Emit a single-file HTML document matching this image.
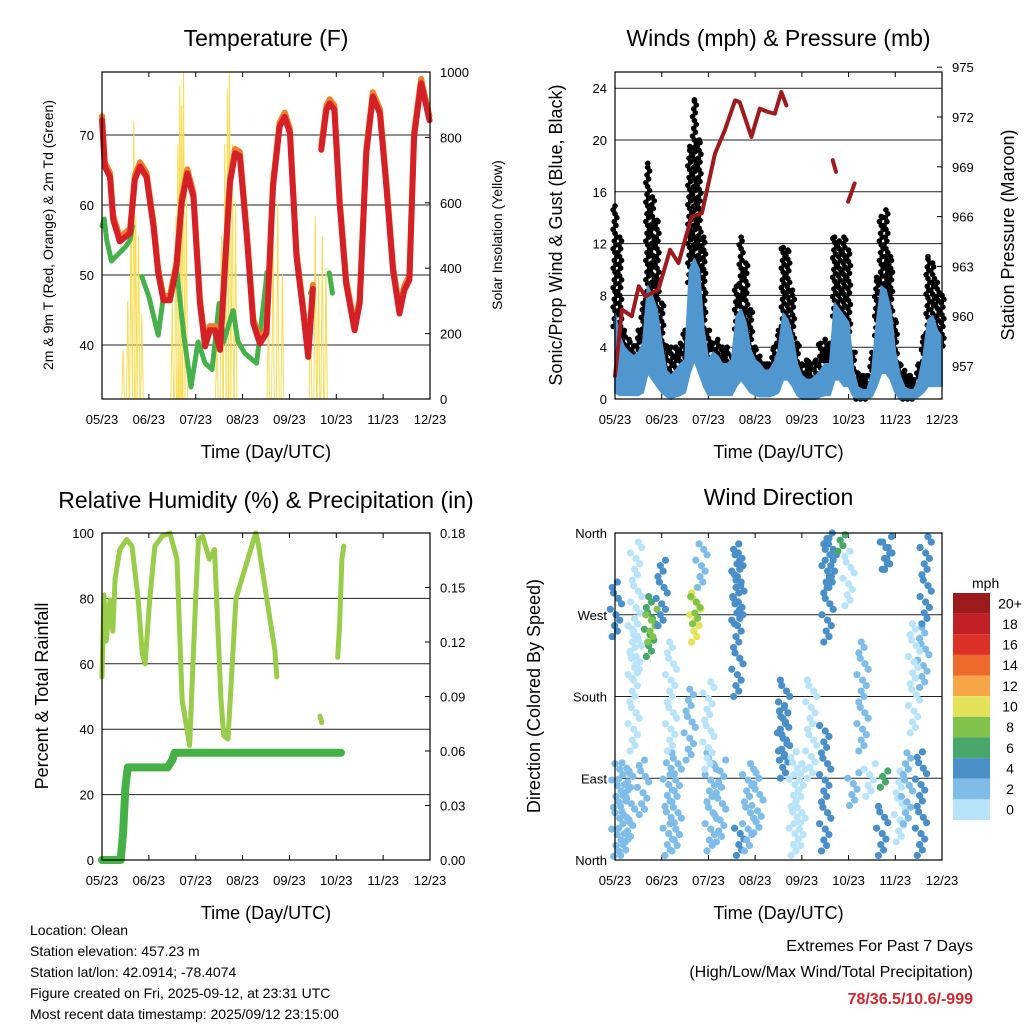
<!DOCTYPE html>
<html><head><meta charset="utf-8"><style>
body{margin:0;background:#fff}
svg{display:block;font-family:"Liberation Sans",sans-serif}
</style></head><body>
<svg id="s" width="1024" height="1024" viewBox="0 0 1024 1024" xmlns="http://www.w3.org/2000/svg">
<g id="p1"></g>
<g id="p2"></g>
<g id="p3"></g>
<g id="p4"></g>
<g id="txt">
<text x="30" y="935" font-size="14">Location: Olean</text>
<text x="30" y="956" font-size="14">Station elevation: 457.23 m</text>
<text x="30" y="977" font-size="14">Station lat/lon: 42.0914; -78.4074</text>
<text x="30" y="998" font-size="14">Figure created on Fri, 2025-09-12, at 23:31 UTC</text>
<text x="30" y="1019" font-size="14">Most recent data timestamp: 2025/09/12 23:15:00</text>
<text x="973" y="951" font-size="16" text-anchor="end">Extremes For Past 7 Days</text>
<text x="973" y="977" font-size="16" text-anchor="end">(High/Low/Max Wind/Total Precipitation)</text>
<text x="973" y="1004" font-size="16" font-weight="bold" fill="#d0262c" text-anchor="end">78/36.5/10.6/-999</text>
</g>
</svg>
<script>
const NS="http://www.w3.org/2000/svg";
const monthLabels=["05/23","06/23","07/23","08/23","09/23","10/23","11/23","12/23"];
const tempX=[0,.06,.17,.24,.38,.6,.7,.81,.95,1.1,1.2,1.31,1.45,1.59,1.7,1.82,1.95,2.09,2.2,2.3,2.41,2.52,2.62,2.73,2.84,2.94,3.09,3.23,3.37,3.51,3.65,3.79,3.9,4.01,4.15,4.29,4.4,4.5,null,4.68,4.79,4.86,4.96,5.07,5.21,5.39,5.5,5.64,5.78,5.93,6.07,6.21,6.35,6.45,6.56,6.66,6.81,6.99];
const tempY=[72.1,65.5,64,57.9,54.8,56,63.6,65.5,64,56.9,50.3,46.4,46.4,51.2,60.3,64.5,61.2,46,39.8,42.1,42.1,39.3,50.7,63.1,67.4,67,55.5,43.1,40.2,41.7,62.6,71.2,72.6,70.3,52.6,45,38.3,48,null,67.9,73.6,74.5,73.6,60.3,48.8,42.1,46,67.4,75.5,73.1,62.6,50.7,44.5,47.8,49.3,69.8,77.4,72.1];
const dewX=[0,.05,.1,.2,.35,.5,.6,.65,null,.85,1.0,1.2,1.3,1.45,1.6,1.75,1.9,2.05,2.2,2.35,2.5,2.6,2.8,2.9,3.05,3.3,3.5,3.52,null,4.45,4.5,null,4.85,4.92];
const dewY=[57,58,55,52,53,54,55,57,null,49.8,46.9,41.4,46.4,46.5,50.3,41.2,34,40.5,37.4,36.5,46,40.5,45,40.5,38.8,37.4,49,50.5,null,47.4,48.3,null,50.3,47.4];
const solarX=[.45,.55,.62,.68,.72,.78,.85,1.5,1.58,1.62,1.66,1.7,1.74,1.8,2.45,2.55,2.62,2.68,2.72,2.78,2.85,3.55,3.65,3.75,3.85,4.45,4.55,4.62,4.7,4.78];
const solarY=[150,300,620,850,560,500,260,300,560,780,960,900,1000,650,200,500,780,950,1000,780,600,250,550,600,380,300,560,380,500,400];
const gust=[14.9,12.5,5.3,4.6,4.1,5.3,7.4,18.2,15.6,13.8,7.4,4.1,4,4,4.3,5.3,19.5,23.1,20,12.5,5.3,4.3,4.6,4,4,3.3,8.7,12.5,10.5,6.9,4,3.3,2.7,2.7,4,5.3,11.7,11.5,8.4,4.3,2.7,3,2.7,3,4.3,4.6,4.3,12.5,12.2,12.5,11.5,3.6,2,1.8,1.8,3.6,9.4,14.1,14.6,11,6.1,2.7,2.2,1.8,1.5,2.7,4.8,11,10.5,9,8];
const windHigh=[6.6,4.8,4,3.6,3.3,3.6,4.3,8.7,7.9,6.9,4.3,2.2,1.8,2.2,2.7,3,10,10.8,10,5.3,3,3.6,3.3,2.7,2.7,3,6.4,6.9,5.9,3.8,3,2.7,2.2,2.2,2.7,3.8,6.6,6.1,4.8,2.7,1.8,1.5,1.5,1.8,2.2,2.7,2.7,7.4,6.9,6.4,5.9,2.2,.9,.7,.7,2,5.9,8.7,8.4,6.9,3.6,1.8,.9,.7,.7,1.5,3.3,6.1,6.4,5.3,4.8];
const windLow=[.5,.3,.3,.3,.3,.3,.5,2,1.5,1,.5,.2,0,.2,.3,.5,2,3,2,1,.3,.3,.3,.3,.3,.3,1,1.5,1,.5,.3,.2,.2,.2,.3,.5,1.5,1.5,1,.3,0,0,0,0,.2,.3,.3,1.5,1.5,1,1,.2,0,0,0,.2,1,2,2,1.5,.5,0,0,0,0,.2,.5,1,1,1,1];
const presX=[0,.15,.36,.51,.65,.93,1.18,1.36,1.64,1.86,2.14,2.35,2.57,2.67,2.92,3.1,3.28,3.42,3.56,3.67,null,4.66,4.73,null,4.99,5.13];
const presY=[956.4,960.4,960,961.8,961.2,961.6,964,963.2,966,966.2,969.8,971.2,973,972.9,970.8,972.5,972.3,972.2,973.5,972.7,null,969.4,968.7,null,966.9,968];
const rhX=[0,.04,.09,.17,.23,.28,.38,.53,.64,.77,.86,.92,1.02,1.13,1.28,1.45,1.6,1.71,1.87,2.0,2.06,2.15,2.29,2.4,2.54,2.6,2.69,2.86,3.28,3.32,3.69,3.73,null,4.65,4.69,null,5.03,5.07,5.12,5.16];
const rhY=[56,81,67,79.5,70,86,95,98,96,80,63,60,80,96,99,100,92,49,35,80,98,99,92,95,49,38,37,80,100,98,64,56,null,44,42,null,62,72,92,96];
const precipX=[0,.4,.45,.5,.55,1.4,1.5,1.55,5.1];
const precipY=[0,0,.015,.04,.051,.051,.055,.059,.059];
const dirT=[.02,.05,.2,.3,.45,.6,.75,.78,1.0,1.15,1.3,1.6,1.72,1.74,1.85,2.05,2.25,2.62,2.68,2.64,2.85,3.05,3.62,3.6,3.85,3.95,4.5,4.55,4.62,4.85,5.1,5.3,5.45,5.72,5.76,5.8,5.85,6.1,6.25,6.55,6.6,6.65,1.2,2.0,4.2,5.0,6.4,0.4];
const dirA=[246,4,5,20,200,50,224,240,258,5,10,110,240,260,300,10,20,180,5,260,10,30,90,110,5,10,10,240,300,340,60,120,70,5,80,320,320,20,40,5,190,260,120,100,90,280,140,120];
const dirB=[308,107,110,100,355,110,290,280,330,110,120,190,300,290,350,120,110,350,40,340,110,100,200,170,120,110,150,355,360,360,100,240,110,60,100,360,350,100,120,120,260,360,240,200,200,340,260,260];
const dirS=[3,1,1,2,0,1,6,7,4,2,2,2,9,7,1,1,1,4,4,3,1,1,4,4,0,0,4,3,4,5,1,1,0,4,6,4,3,0,1,4,2,3,0,0,0,0,0,0];
const cbLabels=["20+","18","16","14","12","10","8","6","4","2","0"];
const cbColors=["#9b1a1c","#bf1f25","#dc3127","#ee6a2c","#f6a646","#e3e25a","#80c24b","#48a86b","#4a8fc8","#7fbde8","#b9e3f9"];

function el(parent,tag,attrs){const e=document.createElementNS(NS,tag);for(const k in attrs)e.setAttribute(k,attrs[k]);parent.appendChild(e);return e;}
function txt(parent,x,y,s,size,anchor,rot){const e=el(parent,'text',{x:x,y:y,'font-size':size,'text-anchor':anchor||'middle'});if(rot)e.setAttribute('transform',`rotate(${rot} ${x} ${y})`);e.textContent=s;return e;}
function poly(parent,X,Y,fx,fy,attrs,name){let segs=[],cur=[];for(let i=0;i<X.length;i++){if(X[i]===null){if(cur.length)segs.push(cur);cur=[];continue;}cur.push(fx(X[i]).toFixed(1)+','+fy(Y[i]).toFixed(1));}if(cur.length)segs.push(cur);segs.forEach(s=>{const p=el(parent,'polyline',Object.assign({points:s.join(' '),fill:'none','stroke-linejoin':'round','stroke-linecap':'round'},attrs));});}

function frame(g,L,T,R,B,title,ty){
  const tt=txt(g,(L+R)/2,ty,title,23);
  const mx=m=>L+(R-L)*m/7;
  for(let i=0;i<8;i++){const x=mx(i);el(g,'line',{x1:x,x2:x,y1:B,y2:B-5,stroke:'#000'});el(g,'line',{x1:x,x2:x,y1:T,y2:T+5,stroke:'#000'});
    const t=txt(g,x,B+25,monthLabels[i],13);}
  const xt=txt(g,(L+R)/2,B+59,'Time (Day/UTC)',18);
  return mx;
}
function box(g,L,T,R,B){const r=el(g,'rect',{x:L,y:T,width:R-L,height:B-T,fill:'none',stroke:'#000','stroke-width':1.2});}
function hgrid(g,L,R,y,lab,side){el(g,'line',{x1:L,x2:R,y1:y,y2:y,stroke:'#222','stroke-width':1});
  if(lab!==null){const t=txt(g,side==='l'?L-8:R+10,y+5,lab,13,side==='l'?'end':'start');}}

(function(){const g=document.getElementById('p1');const L=102,T=72,R=430,B=399;
 const mx=frame(g,L,T,R,B,'Temperature (F)',46);
 const fy=v=>345-(v-40)*7, sy=v=>B-v/1000*(B-T);
 [40,50,60,70].forEach(v=>hgrid(g,L,R,fy(v),String(v),'l'));
 [0,200,400,600,800,1000].forEach(v=>{const t=txt(g,R+10,sy(v)+5,String(v),13,'start');el(g,'line',{x1:R,x2:R-5,y1:sy(v),y2:sy(v),stroke:'#000'});});
 solarX.forEach((m,i)=>{const w=0.03;const p=el(g,'polyline',{points:`${mx(m-w)},${B} ${mx(m-w*.5)},${sy(solarY[i]*.4)} ${mx(m-w*.15)},${sy(solarY[i]*.9)} ${mx(m)},${sy(solarY[i])} ${mx(m+w*.15)},${sy(solarY[i]*.9)} ${mx(m+w*.5)},${sy(solarY[i]*.4)} ${mx(m+w)},${B}`,fill:'none',stroke:'#f7dd55','stroke-width':1});
  });
 poly(g,dewX,dewY,mx,fy,{stroke:'#46b04a','stroke-width':5,'stroke-dasharray':'3 1.5'},'dewpoint-line');
 poly(g,tempX,tempY.map(v=>v===null?null:v+0.6),mx,fy,{stroke:'#f37f2a','stroke-width':6},'temp-9m-line');
 poly(g,tempX,tempY,mx,fy,{stroke:'#d42128','stroke-width':6},'temp-2m-line');
 box(g,L,T,R,B);
 const a=txt(g,53,235,'2m & 9m T (Red, Orange) & 2m Td (Green)',14,'middle',-90);
 const b=txt(g,502,235,'Solar Insolation (Yellow)',14,'middle',-90);
})();
(function(){const g=document.getElementById('p2');const L=615,T=72,R=942,B=399;
 const mx=frame(g,L,T,R,B,'Winds (mph) & Pressure (mb)',46);
 const fy=v=>B-v*12.95, py=v=>366-(v-957)*16.6;
 [0,4,8,12,16,20,24].forEach(v=>hgrid(g,L,R,fy(v),String(v),'l'));
 [957,960,963,966,969,972,975].forEach(v=>{const t=txt(g,R+10,py(v)+5,String(v),13,'start');el(g,'line',{x1:R,x2:R-5,y1:py(v),y2:py(v),stroke:'#000'});});
 gust.forEach((v,i)=>{const m=i*0.1;let k=0;for(let w=Math.max(0,windHigh[i]-1);w<=v;w+=0.3){const off=[-0.04,0.02,-0.015,0.04,0][k%5];const c=el(g,'circle',{cx:mx(m+off),cy:fy(w),r:2.8,fill:'#000'});k++;}
   const c=el(g,'circle',{cx:mx(m),cy:fy(v),r:2.8,fill:'#000'});});
 let pts=[];windHigh.forEach((v,i)=>pts.push(mx(i*.1).toFixed(1)+','+fy(v).toFixed(1)));for(let i=windLow.length-1;i>=0;i--)pts.push(mx(i*.1).toFixed(1)+','+fy(windLow[i]).toFixed(1));
 const band=el(g,'polygon',{points:pts.join(' '),fill:'#5096cf',stroke:'#5096cf','stroke-width':2,'stroke-linejoin':'round'});
 poly(g,presX,presY,mx,py,{stroke:'#9b1b1e','stroke-width':4},'pressure-line');
 box(g,L,T,R,B);
 const a=txt(g,562,235,'Sonic/Prop Wind & Gust (Blue, Black)',18,'middle',-90);
 const b=txt(g,1014,235,'Station Pressure (Maroon)',18,'middle',-90);
})();
(function(){const g=document.getElementById('p3');const L=102,T=533,R=430,B=860;
 const mx=frame(g,L,T,R,B,'Relative Humidity (%) & Precipitation (in)',508);
 const fy=v=>B-v*3.27, py=v=>B-v/0.18*327;
 [0,20,40,60,80,100].forEach(v=>hgrid(g,L,R,fy(v),String(v),'l'));
 ["0.00","0.03","0.06","0.09","0.12","0.15","0.18"].forEach(s=>{const v=parseFloat(s);const t=txt(g,R+10,py(v)+5,s,13,'start');el(g,'line',{x1:R,x2:R-5,y1:py(v),y2:py(v),stroke:'#000'});});
 poly(g,rhX,rhY,mx,fy,{stroke:'#98cc4a','stroke-width':5},'rh-line');
 poly(g,precipX,precipY,mx,py,{stroke:'#45b046','stroke-width':8},'precip-line');
 box(g,L,T,R,B);
 const a=txt(g,48,696,'Percent & Total Rainfall',18,'middle',-90);
})();
(function(){const g=document.getElementById('p4');const L=615,T=533,R=942,B=860;
 const mx=frame(g,L,T,R,B,'Wind Direction',505);
 const fy=d=>B-d/360*327;
 [["North",0],["East",90],["South",180],["West",270],["North",360]].forEach(a=>{hgrid(g,L,R,fy(a[1]),a[0],'l');});
 const col=s=>cbColors[10-Math.min(10,Math.round(s/2))];
 const offs=[-0.08,0.03,-0.03,0.08,0,-0.12,0.12,0.05,-0.05];
 dirT.forEach((m,i)=>{let k=0;for(let d=dirA[i];d<=dirB[i];d+=6){const c=el(g,'circle',{cx:mx(m+offs[k%9]),cy:fy(d),r:3.6,fill:col(dirS[i])});k++;}});
 box(g,L,T,R,B);
 const a=txt(g,540,696,'Direction (Colored By Speed)',18,'middle',-90);
 const cb=el(g,'g',{});
 const u=txt(cb,972,588,'mph',14,'start');
 const h=227/11;
 cbLabels.forEach((s,i)=>{const r=el(cb,'rect',{x:953,y:593+i*h,width:37,height:h,fill:cbColors[i]});
   const t=txt(cb,1010,593+i*h+h/2+5,s,14);});
})();
</script>
</body></html>
